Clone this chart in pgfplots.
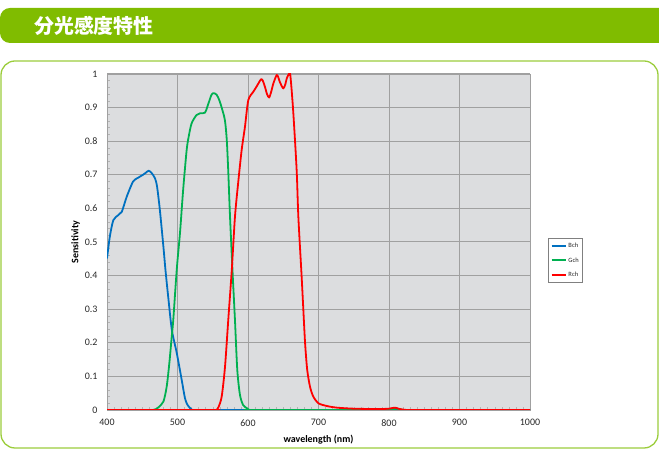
\documentclass[border=0pt]{standalone}
\usepackage{fontspec}
\usepackage{pgfplots}
\pgfplotsset{compat=1.18}
\setmainfont{Carlito}
\newfontfamily\cjk{Noto Sans CJK JP}

\definecolor{barGreen}{RGB}{128,188,0}
\definecolor{frameGreen}{RGB}{155,205,60}
\definecolor{plotBg}{RGB}{220,221,223}
\definecolor{gridGray}{RGB}{160,160,160}
\definecolor{bch}{RGB}{0,112,192}
\definecolor{gch}{RGB}{0,176,80}
\definecolor{rch}{RGB}{255,0,0}
\definecolor{txt}{RGB}{40,40,40}

\begin{document}
\begin{tikzpicture}[x=1bp,y=1bp]
\useasboundingbox (0,0) rectangle (659,450);
% heading bar
\fill[barGreen] (700,442) -- (10,442) to[out=180,in=90] (0,432) -- (0,417)
  to[out=-90,in=180] (10,407) -- (700,407) -- cycle;
\node[anchor=west,text=white,inner sep=0] at (34,424.5)
  {\cjk\bfseries\fontsize{20}{20}\selectfont 分光感度特性};
% panel frame
\draw[frameGreen,line width=1.3bp,rounded corners=14bp] (1,2) rectangle (658,389);

\begin{axis}[
  at={(107bp,40bp)}, anchor=south west,
  scale only axis, width=423bp, height=336bp,
  xmin=400, xmax=1000, ymin=0, ymax=1,
  xtick={400,500,...,1000},
  ytick={0,0.1,0.2,0.3,0.4,0.5,0.6,0.7,0.8,0.9,1},
  yticklabels={0,0.1,0.2,0.3,0.4,0.5,0.6,0.7,0.8,0.9,1},
  minor x tick num=9, minor y tick num=4,
  tick pos=left, tick align=inside,
  major tick length=0pt, minor tick length=3bp,
  minor tick style={gridGray!80, line width=0.5bp},
  grid=major,
  major grid style={gridGray, line width=1bp},
  axis line style={gridGray, line width=0.8bp},
  axis background/.style={fill=plotBg},
  /pgf/number format/assume math mode=true,
  /pgf/number format/1000 sep={},
  ticklabel style={font=\fontsize{10}{12}\selectfont, text=txt},
  xticklabel style={yshift=-6bp},
  yticklabel style={xshift=-6bp},
  xlabel={\bfseries wavelength (nm)},
  ylabel={\bfseries Sensitivity},
  label style={font=\fontsize{10}{12}\selectfont, text=black},
  xlabel style={yshift=-2bp},
  ylabel style={yshift=-2bp},
  legend style={at={(1.043,0.511)}, anchor=north west,
    draw=gray, line width=0.6bp, fill=white,
    font=\fontsize{6.5}{7}\selectfont, text=txt,
    inner xsep=2bp, inner ysep=2.5bp, row sep=4.5bp},
  legend cell align=left,
  legend image code/.code={\draw[#1,line width=2bp] (0bp,0.3bp) -- (14bp,0.3bp);},
  spec/.style={line width=1.8bp, line join=round, smooth, tension=0.45},
]
\addplot[bch, spec] coordinates {
(400,0.451) (404,0.516) (409,0.565) (416,0.580) (421,0.590) (428,0.635)
(437,0.680) (444,0.691) (451,0.700) (455,0.706) (459,0.712) (463,0.706)
(468,0.690) (471,0.665) (475,0.595) (480,0.486) (483,0.415) (487,0.333)
(492,0.238) (499,0.169) (506,0.089) (510.6,0.035) (514,0.016) (517.7,0.006)
(521,0) (525,0) (1000,0)
};
\addlegendentry{Bch}
\addplot[gch, spec] coordinates {
(400,0) (461,0) (465,0) (470,0.003) (473,0.008) (480,0.025) (484.7,0.070)
(488.4,0.139) (491.8,0.218) (494,0.268) (499,0.420) (503.5,0.526)
(508,0.655) (513,0.774) (516,0.815) (520,0.853) (527,0.878) (532,0.883)
(539,0.885) (544,0.913) (548,0.937) (551,0.943) (555.6,0.938) (560,0.918)
(566,0.875) (568,0.850) (570,0.800) (572,0.710) (574.5,0.575) (578,0.415)
(581.5,0.268) (584.8,0.119) (588.6,0.045) (593,0.015) (598,0.006) (602,0)
(606,0) (796,0) (800,0) (810,0.004) (820,0) (824,0) (1000,0)
};
\addlegendentry{Gch}
\addplot[rch, spec] coordinates {
(400,0) (551,0) (555,0) (558,0.008) (562.7,0.040) (567.4,0.129) (572,0.268)
(577,0.417) (581.5,0.575) (586,0.675) (591,0.774) (595.7,0.843)
(600.4,0.922) (607.5,0.947) (612,0.962) (618.4,0.984) (621,0.980)
(624,0.962) (627,0.940) (630,0.930) (633,0.948) (636,0.972) (640.7,0.997)
(643,0.990) (645,0.977) (650,0.957) (653,0.970) (655,0.987) (658,1.0)
(660,0.997) (664,0.893) (669,0.714) (671.4,0.575) (676,0.400)
(678.5,0.298) (681,0.198) (684,0.119) (688,0.069) (692.6,0.040)
(700,0.020) (711.6,0.012) (725.8,0.007) (749,0.004) (773,0.003)
(790,0.003) (800,0.004) (808.5,0.007) (815,0.003) (825,0) (829,0) (1000,0)
};
\addlegendentry{Rch}
\end{axis}
\end{tikzpicture}
\end{document}
